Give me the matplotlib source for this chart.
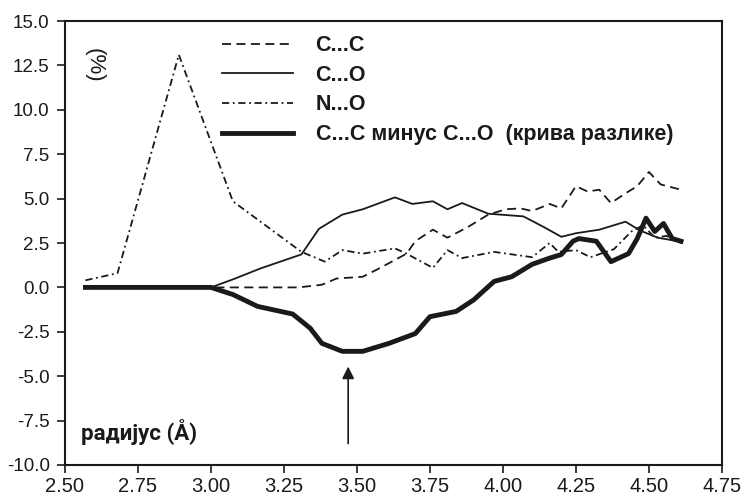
import matplotlib.pyplot as plt

plt.rcParams['font.family'] = ['Liberation Sans', 'DejaVu Sans']

# C...C (dashed)
cc_x = [2.57, 2.70, 2.85, 3.00, 3.15, 3.30, 3.38, 3.43, 3.52, 3.58, 3.67, 3.70, 3.76,
        3.81, 3.88, 3.95, 4.01, 4.06, 4.10, 4.16, 4.20, 4.25, 4.29, 4.33, 4.37, 4.42,
        4.46, 4.50, 4.54, 4.61]
cc_y = [0, 0, 0, 0, 0, 0, 0.15, 0.5, 0.6, 1.1, 1.9, 2.6, 3.25,
        2.8, 3.4, 4.1, 4.4, 4.45, 4.3, 4.7, 4.45, 5.7, 5.4, 5.5, 4.75, 5.3,
        5.7, 6.5, 5.8, 5.5]

# C...O (thin solid)
co_x = [2.57, 2.75, 3.00, 3.075, 3.17, 3.31, 3.37, 3.45, 3.52, 3.63, 3.69, 3.76, 3.81,
        3.86, 3.95, 4.07, 4.14, 4.20, 4.25, 4.33, 4.42, 4.47, 4.53, 4.60]
co_y = [0, 0, 0, 0.45, 1.07, 1.86, 3.3, 4.1, 4.4, 5.07, 4.7, 4.85, 4.4,
        4.75, 4.15, 4.0, 3.4, 2.85, 3.05, 3.25, 3.7, 3.2, 2.8, 2.6]

# N...O (dash-dot)
no_x = [2.57, 2.68, 2.89, 3.075, 3.31, 3.39, 3.45, 3.52, 3.63, 3.67, 3.76, 3.81, 3.86,
        3.97, 4.10, 4.16, 4.19, 4.25, 4.30, 4.38, 4.44, 4.48, 4.52, 4.56, 4.61]
no_y = [0.4, 0.8, 13.1, 4.85, 2.0, 1.45, 2.1, 1.9, 2.2, 1.9, 1.1, 2.1, 1.65,
        2.0, 1.7, 2.5, 2.0, 2.1, 1.7, 2.15, 3.15, 3.5, 2.8, 2.9, 2.5]

# C...C minus C...O (thick)
diff_x = [2.57, 2.75, 3.00, 3.075, 3.16, 3.28, 3.34, 3.38, 3.45, 3.52, 3.61, 3.70, 3.75,
          3.84, 3.90, 3.97, 4.03, 4.06, 4.10, 4.16, 4.20, 4.24, 4.26, 4.32, 4.37, 4.43,
          4.46, 4.49, 4.52, 4.55, 4.58, 4.61]
diff_y = [0, 0, 0, -0.4, -1.07, -1.5, -2.3, -3.15, -3.6, -3.6, -3.15, -2.6, -1.65,
          -1.35, -0.7, 0.34, 0.6, 0.9, 1.3, 1.65, 1.85, 2.6, 2.75, 2.6, 1.45, 1.9,
          2.75, 3.9, 3.15, 3.6, 2.75, 2.6]

x_ticks = [2.50, 2.75, 3.00, 3.25, 3.50, 3.75, 4.00, 4.25, 4.50, 4.75]
y_ticks = [-10.0, -7.5, -5.0, -2.5, 0.0, 2.5, 5.0, 7.5, 10.0, 12.5, 15.0]

ink = '#1a1a1a'

fig = plt.figure(figsize=(7.45, 4.97), dpi=100)
ax = fig.add_axes([0.0872, 0.0644, 0.8818, 0.8933])

ax.plot(cc_x, cc_y, color=ink, lw=1.3, linestyle=(0, (5, 3)), label='C...C')
ax.plot(co_x, co_y, color=ink, lw=1.3, label='C...O')
ax.plot(no_x, no_y, color=ink, lw=1.3, linestyle=(0, (4, 2, 1, 2)), label='N...O')
ax.plot(diff_x, diff_y, color=ink, lw=3.5, solid_joinstyle='round',
        label='C...C минус C...O  (крива разлике)')

ax.set_xlim(2.5, 4.75)
ax.set_ylim(-10, 15)
ax.set_xticks(x_ticks)
ax.set_yticks(y_ticks)
ax.set_xticklabels([f'{v:.2f}' for v in x_ticks])
ax.set_yticklabels([f'{v:.1f}' for v in y_ticks])
ax.tick_params(direction='out', length=6, width=1.2, colors=ink)
ax.tick_params(axis='x', labelsize=14.5, pad=3)
ax.tick_params(axis='y', labelsize=13.5, pad=5)
for s in ax.spines.values():
    s.set_linewidth(1.5)
    s.set_color(ink)

ax.text(0.045, 0.94, '(%)', transform=ax.transAxes, rotation=270,
        ha='center', va='top', fontsize=16, color=ink)
ax.text(0.025, 0.074, 'радијус (\u00c5)', transform=ax.transAxes,
        ha='left', va='center', fontsize=16, fontweight='bold', color=ink,
        family=['Roboto', 'DejaVu Sans'])

ax.annotate('', xy=(3.47, -4.3), xytext=(3.47, -8.95),
            arrowprops=dict(arrowstyle='-|>', color=ink, lw=1.2, mutation_scale=18))

ax.legend(loc='upper left', bbox_to_anchor=(0.239, 0.968), frameon=False,
          borderaxespad=0, borderpad=0, handlelength=3.3, handletextpad=1.05,
          labelspacing=0.4, prop={'size': 15.5, 'weight': 'bold'}, labelcolor=ink)

fig.savefig('out.png', dpi=100)
